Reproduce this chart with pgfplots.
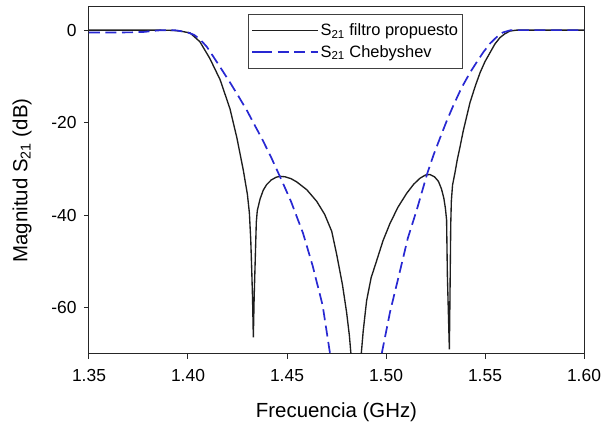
\documentclass[border=0pt]{standalone}
\usepackage{pgfplots}
\pgfplotsset{compat=1.18}
\usepackage{fontspec}
\setmainfont{Liberation Sans}
\definecolor{cheby}{RGB}{40,40,210}
\definecolor{prop}{RGB}{30,30,30}

\begin{document}
\begin{tikzpicture}
\useasboundingbox (-89bp,-76bp) rectangle (515bp,354bp);
\begin{axis}[
  width=495bp, height=347bp, scale only axis,
  xmin=1.35, xmax=1.60, ymin=-70, ymax=5,
  xtick={1.35,1.40,1.45,1.50,1.55,1.60},
  ytick={-60,-40,-20,0},
  xticklabel style={/pgf/number format/.cd, fixed, fixed zerofill, precision=2, /tikz/.cd, yshift=-7bp},
  yticklabel style={xshift=-4bp},
  /pgf/number format/assume math mode=true,
  tick label style={font=\fontsize{17.5}{20}\selectfont, black},
  tick pos=left, tick align=outside, major tick length=5bp,
  axis line style={black!85, line width=1bp},
  every tick/.style={black!85, line width=1bp},
  label style={font=\fontsize{20.5}{24}\selectfont},
  xlabel={Frecuencia (GHz)},
  ylabel={Magnitud S\textsubscript{21} (dB)},
  xlabel style={at={(axis description cs:0.5,-0.168)}, anchor=center},
  ylabel style={at={(axis description cs:-0.135,0.5)}, anchor=center},
  legend style={at={(axis description cs:0.3212,0.98)}, anchor=north west,
    draw=black!75, line width=0.8bp, font=\fontsize{16.5}{19}\selectfont,
    inner xsep=3bp, inner ysep=8bp, row sep=5bp,
    nodes={inner sep=1.5bp}},
  legend cell align=left,
  legend image code/.code={\path (-9bp,0bp) -- (0bp,0bp); \draw[#1] (0bp,0bp) -- (57bp,0bp);},
]
% S21 filtro propuesto
\addplot[prop, line width=1.35bp] coordinates {
  (1.350,0) (1.370,0) (1.385,0) (1.392,-0.05) (1.396,-0.2) (1.401,-0.6)
  (1.406,-2.5) (1.411,-6.1) (1.4162,-10.7) (1.4212,-17.0) (1.4247,-23.3)
  (1.4279,-30.2) (1.4300,-35.5) (1.4310,-39.5) (1.4317,-45.4) (1.4322,-52)
  (1.4326,-58) (1.4330,-66.4) (1.4334,-58) (1.4338,-52) (1.4342,-46)
  (1.4345,-41.5) (1.4350,-39) (1.4364,-36.5) (1.4380,-34.6) (1.4397,-33.4)
  (1.4420,-32.4) (1.4445,-31.8) (1.4465,-31.6) (1.4490,-31.7) (1.4520,-32.1)
  (1.4549,-32.8) (1.4600,-34.5) (1.4650,-37.0) (1.4690,-39.8) (1.4726,-43.5)
  (1.4751,-48.5) (1.4780,-55) (1.4801,-61) (1.4815,-66) (1.4825,-71)
  (1.4849,-90)
  (1.4873,-71) (1.4885,-65) (1.4902,-58.5) (1.4925,-53.5) (1.4953,-49.8)
  (1.4985,-45.5) (1.5020,-41.8) (1.5060,-38.3) (1.5104,-35.3) (1.5140,-33.3)
  (1.5172,-32.0) (1.5200,-31.3) (1.5222,-31.2) (1.5245,-31.7) (1.5265,-32.7)
  (1.5280,-34.3) (1.5292,-36.3) (1.5300,-38.5) (1.5306,-41) (1.5310,-53)
  (1.5315,-61) (1.5320,-69) (1.5323,-58) (1.5325,-50) (1.5327,-42)
  (1.5330,-37) (1.5336,-33.5) (1.5348,-30.9) (1.5360,-28) (1.5374,-25.2)
  (1.5390,-21.8) (1.5424,-15.7) (1.5450,-12.2) (1.5475,-9.2) (1.5500,-6.8)
  (1.5525,-4.9) (1.5550,-3.0) (1.5576,-1.6) (1.5600,-0.8) (1.5626,-0.2)
  (1.5660,0) (1.580,0) (1.600,0)
};
\addlegendentry{S\textsubscript{21} filtro propuesto}
% S21 Chebyshev
\addplot[cheby, line width=1.7bp, dash pattern=on 11bp off 5.5bp] coordinates {
  (1.350,-0.5) (1.365,-0.5) (1.372,-0.48) (1.378,-0.38) (1.382,-0.18)
  (1.386,-0.03) (1.390,0) (1.394,-0.05) (1.3995,-0.45) (1.4030,-1.0)
  (1.4061,-2.0) (1.4095,-3.6) (1.4126,-5.6) (1.4170,-8.5) (1.4212,-11.3)
  (1.4255,-14.3) (1.4298,-17.4) (1.4340,-20.8) (1.4374,-23.5) (1.4420,-27.5)
  (1.4465,-31.7) (1.4520,-37.0) (1.4581,-43.9) (1.4630,-51) (1.4680,-59.5)
  (1.4717,-69.8) (1.4730,-74)
  (1.4849,-120)
  (1.4965,-74) (1.4978,-70) (1.5020,-61) (1.5071,-52) (1.5110,-45)
  (1.5155,-38.9) (1.5209,-30.9) (1.5240,-27) (1.5273,-23.3) (1.5305,-19.8)
  (1.5340,-16.3) (1.5380,-12.6) (1.5424,-9.2) (1.5460,-6.8) (1.5491,-4.8)
  (1.5525,-2.9) (1.5559,-1.5) (1.5590,-0.5) (1.5626,-0.05) (1.5660,0)
  (1.600,0)
};
\addlegendentry{S\textsubscript{21} Chebyshev}
\end{axis}
\end{tikzpicture}
\end{document}
